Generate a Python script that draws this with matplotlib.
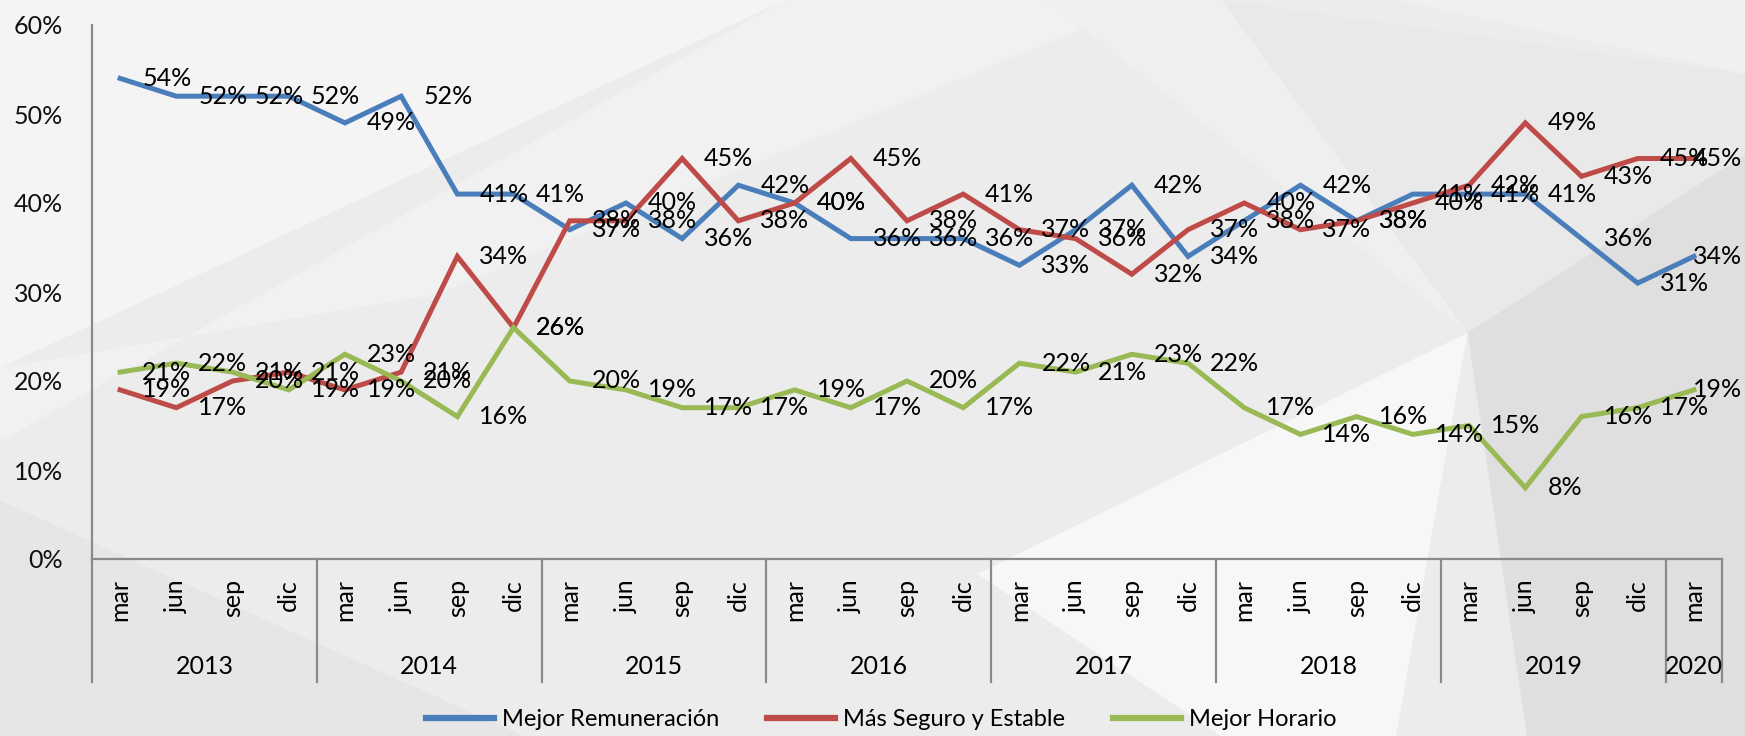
import matplotlib
matplotlib.use("Agg")
import matplotlib.pyplot as plt
from matplotlib.patches import Polygon
from matplotlib.lines import Line2D
from matplotlib.transforms import blended_transform_factory

# ---------------- data ----------------
years = ["2013", "2014", "2015", "2016", "2017", "2018", "2019", "2020"]
months_per_year = [4, 4, 4, 4, 4, 4, 4, 1]
month_names = ["mar", "jun", "sep", "dic"]

series_names = ["Mejor Remuneración", "Más Seguro y Estable", "Mejor Horario"]

remuneracion = [54, 52, 52, 52, 49, 52, 41, 41,
                37, 40, 36, 42, 40, 36, 36, 36,
                33, 37, 42, 34, 38, 42, 38, 41,
                41, 41, 36, 31, 34]
seguro = [19, 17, 20, 21, 19, 21, 34, 26,
          38, 38, 45, 38, 40, 45, 38, 41,
          37, 36, 32, 37, 40, 37, 38, 40,
          42, 49, 43, 45, 45]
horario = [21, 22, 21, 19, 23, 20, 16, 26,
           20, 19, 17, 17, 19, 17, 20, 17,
           22, 21, 23, 22, 17, 14, 16, 14,
           15, 8, 16, 17, 19]

colors = ["#4A7EBB", "#BE4B48", "#98B954"]

month_labels = []
for n in months_per_year:
    month_labels += month_names[:n]

# ---------------- figure ----------------
W, H = 1745, 736
fig = plt.figure(figsize=(W / 100, H / 100), dpi=100)
fig.patch.set_facecolor("#ececec")

# decorative background shapes (figure fraction)
apex = (0.841, 0.548)
bg = [
    ([(0, 1), (0.45, 1), (0.0, 0.50)], "#f4f4f4"),
    ([(0.45, 1), (0.66, 1), (0.25, 0.60), (0.0, 0.50), (0.0, 0.40)], "#f1f1f1"),
    ([(0.0, 0.0), (0.0, 0.32), (0.30, 0.0)], "#e6e6e6"),
    ([apex, (0.56, 0.22), (0.70, 0.0), (0.80, 0.0)], "#f7f7f7"),
    ([apex, (0.875, 0.0), (1.0, 0.0), (1.0, 0.79)], "#dfdfdf"),
    ([apex, (1.0, 0.79), (1.0, 0.90), (0.70, 1.0)], "#e9e9e9"),
    ([(0.80, 1.0), (1.0, 1.0), (1.0, 0.90)], "#f0f0f0"),
    ([apex, (0.70, 1.0), (0.60, 1.0)], "#efefef"),
]
for pts, c in bg:
    fig.patches.append(Polygon(pts, closed=True, transform=fig.transFigure,
                               facecolor=c, edgecolor="none", zorder=-10))

left, right = 92 / W, 1722 / W
bottom, top = 1 - 559 / H, 1 - 25 / H
ax = fig.add_axes([left, bottom, right - left, top - bottom])
ax.set_facecolor("none")

n = len(month_labels)
x = list(range(n))
FONT = "Lato"
LABEL_SIZE = 18

for vals, col, name in zip([remuneracion, seguro, horario], colors, series_names):
    yv = [v / 100 for v in vals]
    ax.plot(x, yv, color=col, lw=3.6, solid_joinstyle="miter", label=name,
            zorder=3, clip_on=False)

edge_tr = blended_transform_factory(fig.transFigure, ax.transData)
for vals in [remuneracion, seguro, horario]:
    for xi, v in zip(x, vals):
        if xi == n - 1:
            # label kept inside the chart area, as the original does
            ax.text((W - 3) / W, v / 100, f"{v}%", transform=edge_tr,
                    ha="right", va="center", fontsize=LABEL_SIZE, family=FONT,
                    color="black", zorder=5)
        else:
            ax.annotate(f"{v}%", (xi, v / 100), xytext=(22, 0),
                        textcoords="offset pixels", ha="left", va="center",
                        fontsize=LABEL_SIZE, family=FONT, color="black",
                        zorder=5, annotation_clip=False)

ax.set_xlim(-0.5, n - 0.5)
ax.set_ylim(0, 0.6)
ax.set_yticks([i / 10 for i in range(7)])
ax.set_yticklabels([f"{i * 10}%" for i in range(7)], family=FONT,
                   fontsize=18, color="#111111")
ax.tick_params(axis="y", length=0, pad=21)
ax.tick_params(axis="x", length=0, labelbottom=False)
for s in ["top", "right"]:
    ax.spines[s].set_visible(False)
for s in ["left", "bottom"]:
    ax.spines[s].set_color("#8a8a8a")
    ax.spines[s].set_linewidth(1.6)

# multi-level category axis
axh = 559 - 25
xt = ax.get_xaxis_transform()
y_month = -(579 - 559) / axh
y_year = -(666 - 559) / axh
y_sep = -(682 - 559) / axh
for xi, lab in zip(x, month_labels):
    ax.text(xi, y_month, lab, transform=xt, rotation=90, ha="center", va="top",
            fontsize=18, family=FONT, color="black")
start = 0
bounds = [-0.5]
for yr, m in zip(years, months_per_year):
    ax.text(start + (m - 1) / 2, y_year, yr, transform=xt, ha="center", va="center",
            fontsize=18, family=FONT, color="black")
    start += m
    bounds.append(start - 0.5)
for b in bounds:
    ax.plot([b, b], [0, y_sep], transform=xt, color="#8a8a8a", lw=1.6, clip_on=False)

handles = [Line2D([], [], color=c, lw=4.5) for c in colors]
fig.legend(handles, series_names, loc="center", bbox_to_anchor=(0.505, 1 - 720 / H),
           ncol=3, frameon=False, prop={"family": FONT, "size": 17},
           handlelength=2.9, handletextpad=0.35, columnspacing=2.0)

fig.savefig("out.png", dpi=100, facecolor=fig.get_facecolor())
